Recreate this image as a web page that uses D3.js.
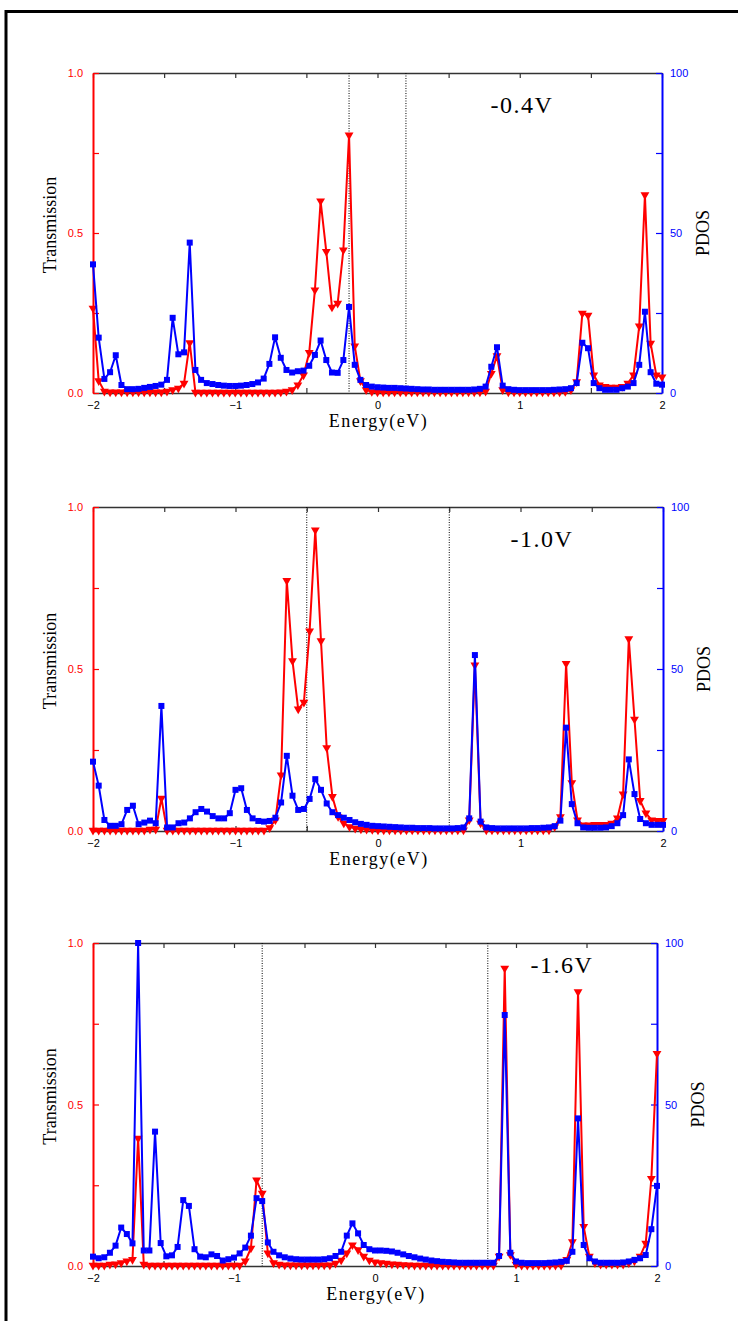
<!DOCTYPE html>
<html>
<head>
<meta charset="utf-8">
<script src="https://cdn.jsdelivr.net/npm/d3@7"></script>
<style>
  body { margin: 0; background: #fff; }
  svg { display: block; }
</style>
</head>
<body>
<svg id="chart" width="738" height="1321"></svg>
<script>
// Energy grid (eV), 0.04 eV step from -2 to 2
const energy = d3.range(101).map(i => +(-2 + i * 0.04).toFixed(2));

// Bias -0.4 V
const trans04 = [
  0.265, 0.038, 0.005, 0.003, 0.003, 0.003, 0.003, 0.003, 0.003, 0.003,
  0.003, 0.003, 0.003, 0.005, 0.010, 0.015, 0.030, 0.157, 0.002, 0.002,
  0.002, 0.002, 0.002, 0.002, 0.002, 0.002, 0.002, 0.002, 0.002, 0.002,
  0.002, 0.002, 0.002, 0.003, 0.005, 0.010, 0.025, 0.056, 0.126, 0.322,
  0.600, 0.442, 0.268, 0.280, 0.447, 0.806, 0.147, 0.038, 0.010, 0.004,
  0.003, 0.003, 0.003, 0.003, 0.003, 0.003, 0.003, 0.003, 0.003, 0.003,
  0.003, 0.003, 0.003, 0.003, 0.003, 0.003, 0.003, 0.003, 0.003, 0.005,
  0.061, 0.116, 0.010, 0.003, 0.003, 0.003, 0.003, 0.003, 0.003, 0.003,
  0.003, 0.003, 0.003, 0.004, 0.010, 0.035, 0.249, 0.243, 0.056, 0.025,
  0.020, 0.018, 0.018, 0.020, 0.030, 0.056, 0.209, 0.619, 0.155, 0.056,
  0.050
];
const pdos04 = [
  40.2, 17.3, 4.4, 6.5, 11.8, 2.5, 1.2, 1.2, 1.3, 1.6,
  1.9, 2.2, 2.6, 4.1, 23.5, 12.1, 12.7, 47.0, 7.2, 4.1,
  3.1, 2.8, 2.5, 2.3, 2.2, 2.2, 2.3, 2.5, 2.8, 3.3,
  4.5, 9.1, 17.4, 11.0, 7.2, 6.4, 6.8, 7.0, 8.5, 11.9,
  16.4, 10.3, 6.4, 6.3, 10.3, 26.9, 8.8, 4.1, 2.5, 2.0,
  1.8, 1.7, 1.6, 1.6, 1.5, 1.4, 1.3, 1.2, 1.1, 1.1,
  1.0, 1.0, 1.0, 1.0, 1.0, 1.0, 1.0, 1.1, 1.3, 2.0,
  8.2, 14.3, 2.3, 1.2, 1.0, 0.9, 0.9, 0.9, 0.9, 0.9,
  0.9, 1.0, 1.1, 1.2, 1.5, 3.1, 15.7, 14.0, 3.1, 1.5,
  1.0, 1.0, 1.0, 1.5, 2.0, 3.1, 8.8, 25.4, 6.5, 2.9,
  2.6
];

// Bias -1.0 V
const trans10 = [
  0.002, 0.002, 0.002, 0.002, 0.002, 0.002, 0.002, 0.002, 0.002, 0.002,
  0.005, 0.005, 0.101, 0.002, 0.002, 0.002, 0.002, 0.002, 0.002, 0.002,
  0.002, 0.002, 0.002, 0.002, 0.002, 0.002, 0.002, 0.002, 0.002, 0.002,
  0.002, 0.010, 0.034, 0.173, 0.773, 0.525, 0.376, 0.397, 0.617, 0.929,
  0.587, 0.257, 0.106, 0.044, 0.024, 0.013, 0.008, 0.006, 0.005, 0.004,
  0.003, 0.003, 0.003, 0.003, 0.003, 0.003, 0.003, 0.003, 0.003, 0.003,
  0.003, 0.003, 0.003, 0.003, 0.003, 0.003, 0.034, 0.512, 0.024, 0.003,
  0.003, 0.003, 0.003, 0.003, 0.003, 0.003, 0.003, 0.003, 0.003, 0.003,
  0.003, 0.013, 0.044, 0.517, 0.149, 0.034, 0.018, 0.018, 0.020, 0.020,
  0.020, 0.024, 0.040, 0.114, 0.593, 0.345, 0.094, 0.055, 0.034, 0.032,
  0.032
];
const pdos10 = [
  21.4, 14.0, 3.4, 1.6, 1.6, 2.1, 6.5, 7.8, 2.1, 2.6,
  3.2, 2.4, 38.6, 1.1, 1.1, 2.4, 2.6, 3.9, 5.8, 6.8,
  6.0, 4.6, 3.9, 3.9, 5.5, 12.7, 13.2, 6.5, 3.9, 3.1,
  2.9, 3.1, 4.1, 8.8, 23.2, 10.9, 6.5, 6.8, 9.9, 16.0,
  12.7, 8.5, 5.8, 4.9, 4.1, 3.4, 2.7, 2.2, 1.9, 1.6,
  1.5, 1.4, 1.3, 1.2, 1.1, 1.0, 1.0, 0.9, 0.9, 0.9,
  0.8, 0.8, 0.8, 0.8, 0.9, 1.1, 3.9, 54.3, 2.9, 1.1,
  0.9, 0.8, 0.8, 0.8, 0.8, 0.8, 0.8, 0.9, 0.9, 1.0,
  1.1, 1.5, 3.2, 31.9, 8.3, 2.4, 1.1, 1.0, 1.0, 1.0,
  1.1, 1.5, 2.4, 4.9, 22.1, 11.4, 3.7, 2.4, 1.9, 1.9,
  1.9
];

// Bias -1.6 V
const trans16 = [
  0.002, 0.002, 0.002, 0.005, 0.006, 0.010, 0.015, 0.020, 0.395, 0.005,
  0.002, 0.002, 0.002, 0.002, 0.002, 0.002, 0.002, 0.002, 0.002, 0.002,
  0.002, 0.002, 0.002, 0.002, 0.002, 0.002, 0.002, 0.015, 0.055, 0.266,
  0.225, 0.040, 0.010, 0.005, 0.003, 0.003, 0.003, 0.003, 0.003, 0.003,
  0.003, 0.003, 0.003, 0.008, 0.018, 0.040, 0.065, 0.050, 0.030, 0.018,
  0.012, 0.010, 0.008, 0.006, 0.005, 0.004, 0.003, 0.002, 0.002, 0.002,
  0.002, 0.002, 0.002, 0.002, 0.002, 0.002, 0.002, 0.002, 0.002, 0.002,
  0.002, 0.002, 0.030, 0.922, 0.035, 0.005, 0.002, 0.002, 0.002, 0.002,
  0.002, 0.002, 0.002, 0.002, 0.020, 0.075, 0.849, 0.122, 0.030, 0.010,
  0.005, 0.005, 0.005, 0.005, 0.005, 0.010, 0.015, 0.030, 0.070, 0.271,
  0.658
];
const pdos16 = [
  2.9, 2.4, 2.7, 4.1, 6.3, 11.9, 9.9, 7.0, 100.0, 4.8,
  4.8, 41.6, 7.1, 3.0, 3.3, 5.9, 20.4, 18.6, 5.2, 2.9,
  2.7, 3.6, 3.1, 1.7, 2.1, 2.6, 3.9, 5.7, 9.4, 21.0,
  20.1, 7.3, 4.4, 3.3, 2.7, 2.3, 2.1, 2.0, 2.0, 2.0,
  2.0, 2.1, 2.4, 3.1, 4.4, 9.4, 13.2, 10.1, 6.5, 5.2,
  4.8, 4.8, 4.7, 4.5, 4.1, 3.6, 3.1, 2.7, 2.3, 2.0,
  1.7, 1.5, 1.3, 1.2, 1.1, 1.0, 1.0, 1.0, 1.0, 1.0,
  1.0, 1.0, 3.1, 77.7, 4.1, 1.4, 1.0, 0.9, 0.9, 0.9,
  0.9, 1.0, 1.1, 1.3, 1.6, 4.4, 45.7, 6.5, 2.4, 1.4,
  1.0, 1.0, 1.0, 1.0, 1.1, 1.4, 1.9, 2.4, 3.4, 11.4,
  24.8
];

const biasLabels = ["-0.4V", "-1.0V", "-1.6V"];
const biasWindow = [0.2, 0.5, 0.8];   // half-width of the bias window (eV)
const energyTicks = [-2, -1.5, -1, -0.5, 0, 0.5, 1, 1.5, 2];
const transTicks = [0, 0.25, 0.5, 0.75, 1.0];
const pdosTicks = [0, 25, 50, 75, 100];

const RED = "#ff0000", BLUE = "#0000ff";
const svg = d3.select("#chart");

// outer frame
svg.append("rect")
  .attr("x", 6).attr("y", 11.5).attr("width", 800).attr("height", 1400)
  .attr("fill", "none").attr("stroke", "#000").attr("stroke-width", 3);

const layouts = [
  { top: 73,  bottom: 393,  left: 93, right: 662, labelX: 522, labelY: 113 },
  { top: 507, bottom: 831,  left: 93, right: 663, labelX: 542, labelY: 547 },
  { top: 943, bottom: 1266, left: 93, right: 657, labelX: 562, labelY: 973 }
];
const seriesT = [trans04, trans10, trans16];
const seriesP = [pdos04, pdos10, pdos16];

const sansFont = "'Liberation Sans', Arial, sans-serif";
const serifFont = "'Liberation Serif', 'Times New Roman', serif";

layouts.forEach((L, k) => {
  const g = svg.append("g");
  const x = d3.scaleLinear().domain([-2, 2]).range([L.left, L.right]);
  const yT = d3.scaleLinear().domain([0, 1]).range([L.bottom, L.top]);
  const yP = d3.scaleLinear().domain([0, 100]).range([L.bottom, L.top]);

  // bottom axis with labels at integer energies
  const bottom = g.append("g").attr("transform", `translate(0,${L.bottom})`)
    .call(d3.axisBottom(x).tickValues(energyTicks).tickSize(-5).tickSizeOuter(0)
      .tickPadding(8).tickFormat(d => Number.isInteger(d) ? d3.format("d")(d) : ""));
  // top axis, ticks only
  const top = g.append("g").attr("transform", `translate(0,${L.top})`)
    .call(d3.axisTop(x).tickValues(energyTicks).tickSize(-5).tickSizeOuter(0)
      .tickFormat(""));
  [bottom, top].forEach(a => {
    a.select(".domain").attr("stroke", "#333").attr("stroke-width", 1.5);
    a.selectAll(".tick line").attr("stroke", "#333").attr("stroke-width", 1.2);
    a.selectAll("text").attr("fill", "#000").attr("font-family", sansFont).attr("font-size", 11);
  });

  // left transmission axis
  const left = g.append("g").attr("transform", `translate(${L.left},0)`)
    .call(d3.axisLeft(yT).tickValues(transTicks).tickSize(-6).tickSizeOuter(0)
      .tickPadding(10).tickFormat(d => (d * 2) % 1 === 0 ? d3.format(".1f")(d) : ""));
  left.select(".domain").attr("stroke", RED).attr("stroke-width", 2);
  left.selectAll(".tick line").attr("stroke", RED).attr("stroke-width", 1.2);
  left.selectAll("text").attr("fill", RED).attr("font-family", sansFont).attr("font-size", 11);

  // right PDOS axis
  const right = g.append("g").attr("transform", `translate(${L.right},0)`)
    .call(d3.axisRight(yP).tickValues(pdosTicks).tickSize(-6).tickSizeOuter(0)
      .tickPadding(8).tickFormat(d => d % 50 === 0 ? d3.format("d")(d) : ""));
  right.select(".domain").attr("stroke", BLUE).attr("stroke-width", 2);
  right.selectAll(".tick line").attr("stroke", BLUE).attr("stroke-width", 1.2);
  right.selectAll("text").attr("fill", BLUE).attr("font-family", sansFont).attr("font-size", 11);

  // bias window markers
  [-biasWindow[k], biasWindow[k]].forEach(e => {
    g.append("line")
      .attr("x1", x(e)).attr("x2", x(e)).attr("y1", L.top).attr("y2", L.bottom)
      .attr("stroke", "#000").attr("stroke-width", 1).attr("stroke-dasharray", "1,1.5");
  });

  // axis titles
  g.append("text")
    .attr("transform", `translate(${L.left - 37},${(L.top + L.bottom) / 2 - 8}) rotate(-90)`)
    .attr("text-anchor", "middle").attr("font-family", serifFont).attr("font-size", 18)
    .attr("fill", "#000").text("Transmission");
  g.append("text")
    .attr("transform", `translate(${L.right + 47},${(L.top + L.bottom) / 2}) rotate(-90)`)
    .attr("text-anchor", "middle").attr("font-family", serifFont).attr("font-size", 18)
    .attr("fill", "#000").text("PDOS");
  g.append("text")
    .attr("x", (L.left + L.right) / 2 + 1).attr("y", L.bottom + 34)
    .attr("text-anchor", "middle").attr("font-family", serifFont).attr("font-size", 18)
    .attr("letter-spacing", 1.5).attr("fill", "#000").text("Energy(eV)");
  g.append("text")
    .attr("x", L.labelX).attr("y", L.labelY)
    .attr("text-anchor", "middle").attr("font-family", serifFont).attr("font-size", 24)
    .attr("letter-spacing", 1.5).attr("fill", "#000").text(biasLabels[k]);

  // transmission curve (red, down triangles)
  const tData = energy.map((e, i) => [e, seriesT[k][i]]);
  g.append("path").datum(tData)
    .attr("fill", "none").attr("stroke", RED).attr("stroke-width", 2)
    .attr("stroke-linejoin", "round")
    .attr("d", d3.line().x(d => x(d[0])).y(d => yT(d[1])));
  const tri = d3.symbol().type(d3.symbolTriangle).size(34);
  g.append("g").selectAll("path").data(tData).join("path")
    .attr("d", tri)
    .attr("transform", d => `translate(${x(d[0])},${yT(d[1])}) rotate(180)`)
    .attr("fill", RED);

  // PDOS curve (blue, squares)
  const pData = energy.map((e, i) => [e, seriesP[k][i]]);
  g.append("path").datum(pData)
    .attr("fill", "none").attr("stroke", BLUE).attr("stroke-width", 2)
    .attr("stroke-linejoin", "round")
    .attr("d", d3.line().x(d => x(d[0])).y(d => yP(d[1])));
  g.append("g").selectAll("rect").data(pData).join("rect")
    .attr("x", d => x(d[0]) - 3).attr("y", d => yP(d[1]) - 3)
    .attr("width", 6).attr("height", 6)
    .attr("fill", BLUE);
});
</script>
</body>
</html>
